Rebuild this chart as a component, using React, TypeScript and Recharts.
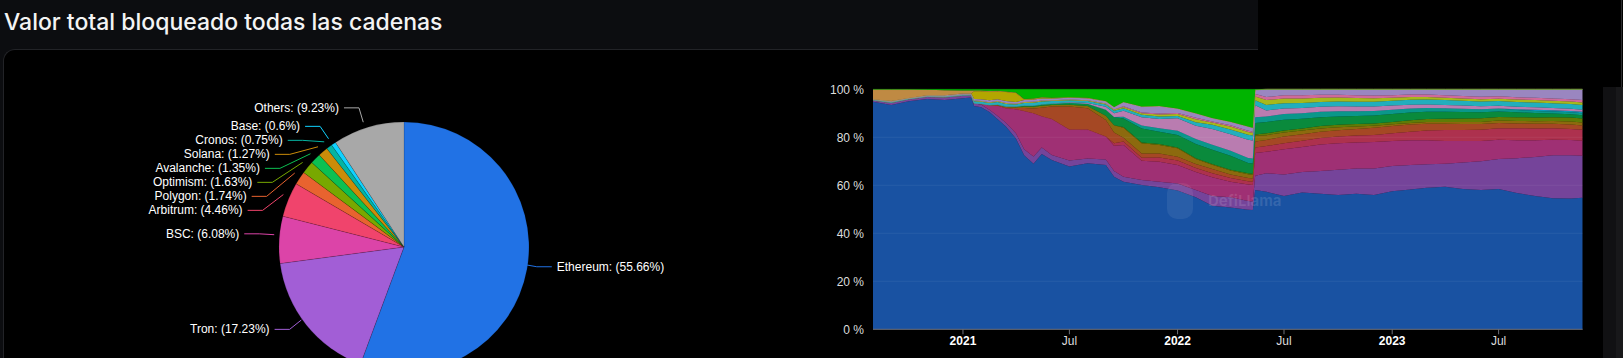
import React from 'react';
import { PieChart, Pie, Cell, AreaChart, Area, XAxis, YAxis, ReferenceLine } from 'recharts';

// ---------- Pie data ----------
const pieNames = ['Ethereum', 'Tron', 'BSC', 'Arbitrum', 'Polygon', 'Optimism', 'Avalanche', 'Solana', 'Cronos', 'Base', 'Others'];
const pieShares = [55.66, 17.23, 6.08, 4.46, 1.74, 1.63, 1.35, 1.27, 0.75, 0.6, 9.23];
const pieColors = ['#2172e5', '#a25ed6', '#dc44a8', '#f0446c', '#e8632f', '#78a800', '#0cc052', '#cb8c09', '#05b4a2', '#10d2ff', '#a8a8a8'];

// ---------- Area (dominance) data ----------
const dates = [
  '2020-08-01', '2020-09-01', '2020-10-01', '2020-11-01', '2020-12-01', '2021-01-01', '2021-01-15', '2021-01-20', '2021-02-01', '2021-02-15',
  '2021-03-01', '2021-03-15', '2021-04-01', '2021-04-15', '2021-05-01', '2021-05-15', '2021-06-01', '2021-07-01', '2021-08-01', '2021-09-01',
  '2021-09-15', '2021-10-01', '2021-11-01', '2021-12-01', '2022-01-01', '2022-02-01', '2022-03-01', '2022-04-01', '2022-05-01', '2022-05-09',
  '2022-05-13', '2022-06-01', '2022-07-01', '2022-08-01', '2022-09-01', '2022-10-01', '2022-11-01', '2022-12-01', '2023-01-01', '2023-02-01',
  '2023-03-01', '2023-04-01', '2023-05-01', '2023-06-01', '2023-07-01', '2023-08-01', '2023-09-01', '2023-10-01', '2023-11-01', '2023-11-21',
];

const ethereum = [94.8, 93.5, 95.0, 96.0, 95.5, 96.3, 96.6, 93.0, 92.5, 90.5, 87.5, 84.5, 79.5, 72.5, 69.0, 73.0, 70.5, 67.8, 69.2, 68.5, 63.6, 61.5, 60.1, 59.2, 57.8, 55.0, 51.5, 50.8, 49.8, 49.7, 58.0, 57.3, 55.5, 57.0, 56.5, 56.0, 56.5, 56.0, 57.5, 58.3, 59.0, 59.4, 58.5, 58.0, 58.5, 56.8, 55.5, 54.6, 54.5, 54.8];
const tron = [0.7, 1.0, 1.0, 1.0, 1.3, 1.2, 1.0, 1.2, 1.2, 1.0, 1.4, 1.6, 2.2, 2.5, 3.0, 2.8, 2.1, 2.5, 2.0, 2.2, 2.4, 2.1, 2.1, 2.3, 3.0, 3.0, 4.0, 4.2, 3.7, 3.5, 6.0, 7.7, 9.0, 8.5, 9.5, 10.5, 10.5, 11.0, 10.5, 10.2, 9.8, 9.6, 11.0, 12.0, 12.5, 14.5, 16.3, 17.9, 18.0, 17.5];
const bsc = [0, 0, 0, 0, 0, 0, 0, 0, 0.3, 2.0, 4.2, 6.0, 10, 16, 18, 13, 15, 13, 12, 9.6, 10.5, 13.2, 8.0, 8.3, 7.7, 7.5, 7.9, 6.5, 6.8, 6.9, 9.5, 9.0, 10.5, 10.5, 11, 11, 10.8, 11, 10.5, 10.3, 10, 9.5, 9.0, 8.5, 8.0, 7.5, 7.0, 6.5, 6.4, 6.3];
const arbitrum = [0, 0, 0, 0, 0, 0, 0, 0, 0, 0, 0, 0, 0, 0, 0, 0, 0, 0, 0, 0, 1.0, 1.5, 1.3, 1.8, 1.8, 1.7, 1.6, 1.5, 1.4, 1.4, 2.3, 2.4, 2.5, 2.6, 2.7, 2.8, 2.9, 3.0, 3.2, 3.5, 4.0, 4.5, 4.5, 4.6, 4.8, 5.0, 4.9, 4.8, 4.6, 4.5];
const polygon = [0, 0, 0, 0, 0, 0, 0, 0, 0, 0, 0.4, 0.5, 0.6, 1.2, 2, 3.5, 5.2, 9.5, 8.9, 6.9, 4.5, 1.5, 1.8, 1.7, 1.6, 1.7, 1.8, 1.5, 1.3, 1.3, 2.5, 2.5, 2.8, 2.7, 2.6, 2.6, 2.8, 3.0, 3.0, 3.0, 2.8, 2.6, 2.5, 2.4, 2.2, 2.0, 1.9, 1.8, 1.8, 1.8];
const solana = [0, 0, 0, 0, 0, 0, 0, 0, 0, 0, 0, 0, 0.2, 0.6, 0.7, 0.8, 0.7, 0.8, 0.9, 1.8, 3.0, 4.2, 4.2, 3.5, 3.5, 2.1, 1.8, 1.7, 1.6, 1.6, 2.3, 2.0, 1.7, 1.5, 1.4, 1.3, 1.0, 0.8, 0.7, 0.7, 0.8, 0.8, 0.9, 0.9, 1.0, 1.0, 1.1, 1.2, 1.3, 1.3];
const optimism = [0, 0, 0, 0, 0, 0, 0, 0, 0, 0, 0, 0, 0, 0, 0, 0, 0, 0, 0, 0, 0, 0.3, 0.3, 0.4, 0.4, 0.3, 0.3, 0.3, 0.4, 0.4, 0.6, 0.8, 0.8, 0.9, 1.0, 1.0, 1.0, 1.0, 1.0, 1.1, 1.2, 1.3, 1.4, 1.5, 1.5, 1.6, 1.6, 1.6, 1.6, 1.6];
const avalanche = [0, 0, 0, 0, 0, 0, 0, 0, 0, 0, 0.2, 0.3, 0.4, 0.5, 0.6, 0.7, 0.6, 0.8, 1.0, 2.5, 3.5, 3.5, 5.9, 5.1, 5.2, 5.9, 5.9, 5.8, 4.3, 4.3, 4.8, 4.7, 4.5, 4.0, 3.7, 3.5, 3.4, 3.3, 3.3, 3.2, 3.0, 2.9, 2.7, 2.5, 2.3, 2.0, 1.8, 1.5, 1.4, 1.4];
const cronos = [0, 0, 0, 0, 0, 0, 0, 0, 0, 0, 0, 0, 0, 0, 0, 0, 0, 0, 0, 0, 0, 0.8, 1.2, 1.5, 1.7, 2.1, 2.1, 2.1, 2.1, 2.1, 2.4, 2.3, 2.4, 2.3, 2.2, 2.2, 2.0, 1.9, 1.8, 1.7, 1.6, 1.5, 1.4, 1.3, 1.2, 1.0, 0.9, 0.8, 0.8, 0.8];
const base = [0, 0, 0, 0, 0, 0, 0, 0, 0, 0, 0, 0, 0, 0, 0, 0, 0, 0, 0, 0, 0, 0, 0, 0, 0, 0, 0, 0, 0, 0, 0, 0, 0, 0, 0, 0, 0, 0, 0, 0, 0, 0, 0, 0, 0, 0.3, 0.5, 0.6, 0.6, 0.6];
const fantom = [0, 0, 0, 0, 0, 0, 0, 0, 0, 0, 0, 0, 0, 0, 0, 0, 0, 0.2, 0.3, 1.2, 1.5, 2.5, 3.5, 3.8, 5.2, 5.5, 6.6, 6.9, 7.6, 7.5, 5.0, 2.5, 2.3, 2.2, 2.1, 2.0, 1.9, 1.8, 1.7, 1.6, 1.5, 1.4, 1.3, 1.2, 1.1, 1.0, 1.0, 0.9, 0.9, 0.9];
const kava = [0.2, 0.3, 0.2, 0.2, 0.3, 0.3, 0.3, 0.8, 0.8, 0.8, 1.0, 1.0, 0.8, 1.0, 1.1, 1.1, 1.0, 0.8, 0.8, 1.0, 1.1, 1.0, 1.0, 1.1, 1.0, 1.5, 1.7, 2.0, 2.1, 2.1, 2.0, 2.3, 2.2, 2.1, 2.0, 2.0, 2.0, 2.0, 2.0, 2.0, 2.0, 2.0, 2.0, 2.0, 2.0, 2.0, 2.0, 2.0, 2.0, 2.0];
const osmosis = [0, 0, 0, 0, 0, 0, 0, 0.3, 0.3, 0.3, 0.4, 0.4, 0.3, 0.4, 0.4, 0.4, 0.3, 0.3, 0.3, 0.4, 0.5, 0.5, 0.6, 0.8, 0.8, 1.2, 1.0, 1.2, 1.1, 1.1, 1.6, 2.0, 2.0, 1.9, 1.8, 1.7, 1.6, 1.5, 1.3, 1.2, 1.1, 1.0, 1.0, 1.0, 1.0, 1.0, 1.0, 1.0, 1.0, 1.0];
const mixin = [0, 0, 0, 0, 0, 0, 0, 0, 0, 0, 0, 0, 0, 0, 0, 0, 0, 0, 0, 0, 0, 0.3, 0.3, 0.4, 0.4, 0.6, 0.4, 0.5, 0.5, 0.5, 1.0, 1.3, 1.3, 1.3, 1.2, 1.1, 1.1, 1.1, 1.0, 1.0, 1.0, 1.0, 1.0, 1.0, 1.0, 1.0, 1.0, 1.0, 1.0, 1.0];
const others = [0.2, 0.3, 0.2, 0.3, 0.4, 0.4, 0.3, 0.7, 0.8, 0.8, 0.8, 0.8, 0.7, 0.8, 0.9, 0.9, 0.8, 0.8, 0.9, 0.9, 1.0, 1.8, 2.5, 3.1, 1.9, 1.9, 1.4, 1.5, 1.8, 1.6, 1.8, 3.2, 2.5, 2.5, 2.3, 2.3, 2.5, 2.6, 2.5, 2.2, 2.2, 2.5, 2.8, 3.1, 2.9, 3.3, 3.5, 3.8, 4.1, 4.5];
const heco = [0, 0, 0, 0, 0, 0, 0, 3.2, 3.3, 3.6, 3.2, 3.8, 3.8, 0.3, 0.3, 0.3, 0.2, 0.1, 0.1, 0.05, 0, 0, 0, 0, 0, 0, 0, 0, 0, 0, 0, 0, 0, 0, 0, 0, 0, 0, 0, 0, 0, 0, 0, 0, 0, 0, 0, 0, 0, 0];
const bitcoin = [4.0, 4.8, 3.5, 2.3, 2.1, 1.3, 1.3, 0.3, 0.3, 0.3, 0.3, 0.2, 0.2, 0.2, 0.2, 0.2, 0.1, 0.1, 0.1, 0.05, 0, 0, 0, 0, 0, 0, 0, 0, 0, 0, 0, 0, 0, 0, 0, 0, 0, 0, 0, 0, 0, 0, 0, 0, 0, 0, 0, 0, 0, 0];
const terra = [0.1, 0.1, 0.1, 0.2, 0.4, 0.5, 0.5, 0.5, 0.5, 0.7, 0.6, 0.9, 1.3, 4.0, 3.8, 3.3, 3.5, 3.3, 3.5, 4.9, 7.4, 5.3, 7.2, 7.0, 8.0, 10.0, 12.0, 13.5, 15.5, 16.0, 0.2, 0, 0, 0, 0, 0, 0, 0, 0, 0, 0, 0, 0, 0, 0, 0, 0, 0, 0, 0];

const areaSeries = [
  { name: 'Ethereum', values: ethereum, color: '#1952a2' },
  { name: 'Tron', values: tron, color: '#75449a' },
  { name: 'BSC', values: bsc, color: '#9f3074' },
  { name: 'Arbitrum', values: arbitrum, color: '#ad314e' },
  { name: 'Polygon', values: polygon, color: '#a54824' },
  { name: 'Solana', values: solana, color: '#8c6a0e' },
  { name: 'Optimism', values: optimism, color: '#5f7c06' },
  { name: 'Avalanche', values: avalanche, color: '#0a8a3c' },
  { name: 'Cronos', values: cronos, color: '#0a978a' },
  { name: 'Base', values: base, color: '#0c97b8' },
  { name: 'Fantom', values: fantom, color: '#b97cb0' },
  { name: 'Kava', values: kava, color: '#22aebd' },
  { name: 'Osmosis', values: osmosis, color: '#a6b81c' },
  { name: 'Mixin', values: mixin, color: '#cf6a9a' },
  { name: 'Others', values: others, color: '#9a86c0' },
  { name: 'Heco', values: heco, color: '#b3a600' },
  { name: 'Bitcoin', values: bitcoin, color: '#bf8a43' },
  { name: 'Terra', values: terra, color: '#00b400' },
];

const xTickDates = ['2021-01-01', '2021-07-01', '2022-01-01', '2022-07-01', '2023-01-01', '2023-07-01'];
const xTickLabels = ['2021', 'Jul', '2022', 'Jul', '2023', 'Jul'];
const yTicks = [0, 0.2, 0.4, 0.6, 0.8, 1];
const xDomain = ['2020-08-01', '2023-11-21'];

const rows = dates.map((d, i) => {
  const row: Record<string, number> = { t: Date.parse(d) };
  areaSeries.forEach((s) => { row[s.name] = s.values[i]; });
  return row;
});
const xTicks = xTickDates.map((d) => Date.parse(d));
const xLabelOf = (v: number) => {
  const idx = xTicks.indexOf(v);
  return idx >= 0 ? xTickLabels[idx] : '';
};

// ---------- Pie label layout ----------
const PIE_CX = 399;
const PIE_CY = 242;
const PIE_R = 125;
const LEN1 = 15;
const LEN2 = 15;
const GAP = 14;

type Lbl = { ex: number; ey: number; x: number; y: number; ny: number; right: boolean };

function layoutLabels(): Lbl[] {
  const total = pieShares.reduce((a, b) => a + b, 0);
  let cum = 0;
  const R = PIE_R + LEN1;
  const items: Lbl[] = pieShares.map((v) => {
    const mid = ((cum + v / 2) / total) * Math.PI * 2;
    cum += v;
    const s = Math.sin(mid);
    const c = Math.cos(mid);
    return {
      ex: PIE_CX + PIE_R * s,
      ey: PIE_CY - PIE_R * c,
      x: PIE_CX + R * s,
      y: PIE_CY - R * c,
      ny: PIE_CY - R * c,
      right: s >= 0,
    };
  });
  [true, false].forEach((side) => {
    const list = items.filter((it) => it.right === side).sort((a, b) => a.ny - b.ny);
    for (let k = 1; k < list.length; k++) {
      if (list[k].y < list[k - 1].y + GAP) list[k].y = list[k - 1].y + GAP;
    }
    list.forEach((it) => {
      if (Math.abs(it.y - it.ny) > 0.5) {
        const dy = it.y - PIE_CY;
        const dx = Math.sqrt(Math.max(0, R * R - dy * dy));
        it.x = PIE_CX + (side ? dx : -dx);
      }
    });
  });
  return items;
}
const labels = layoutLabels();

const renderPieLabel = (props: any) => {
  const i = props.index as number;
  const L = labels[i];
  const dir = L.right ? 1 : -1;
  const x2 = L.x + dir * LEN2;
  return (
    <g key={`lbl-${i}`}>
      <polyline
        points={`${L.ex},${L.ey} ${L.x},${L.y} ${x2},${L.y}`}
        fill="none"
        stroke={pieColors[i]}
        strokeWidth={1}
      />
      <text
        x={x2 + dir * 5}
        y={L.y}
        textAnchor={L.right ? 'start' : 'end'}
        dominantBaseline="central"
        fill="#ffffff"
        fontSize={12}
        fontFamily="'Liberation Sans', Arial, sans-serif"
      >
        {`${pieNames[i]}: (${pieShares[i]}%)`}
      </text>
    </g>
  );
};

const XTick = (props: any) => {
  const { x, y, payload } = props;
  const label = xLabelOf(payload.value);
  const isYear = /^\d{4}$/.test(label);
  return (
    <text
      x={x}
      y={y}
      dy={9}
      textAnchor="middle"
      fill={isYear ? '#ffffff' : '#dddddd'}
      fontSize={12}
      fontWeight={isYear ? 700 : 400}
      fontFamily="'Liberation Sans', Arial, sans-serif"
    >
      {label}
    </text>
  );
};

const pieData = pieNames.map((n, i) => ({ name: n, value: pieShares[i] }));

export default function App() {
  return (
    <div
      style={{
        position: 'absolute',
        left: 0,
        top: 0,
        width: 1623,
        height: 358,
        overflow: 'hidden',
        background: '#000',
        fontFamily: "'Liberation Sans', Arial, sans-serif",
      }}
    >
      <div style={{ position: 'absolute', left: 0, top: 0, width: 1258, height: 358, background: '#0c0d10' }} />
      <div
        style={{
          position: 'absolute',
          left: 4,
          top: 10,
          color: '#f4f4f4',
          fontFamily: 'Inter, sans-serif',
          fontWeight: 500,
          fontSize: 23,
          lineHeight: '24px',
          whiteSpace: 'nowrap',
        }}
      >
        Valor total bloqueado todas las cadenas
      </div>
      <div
        style={{
          position: 'absolute',
          left: 3,
          top: 49,
          width: 1260,
          height: 330,
          background: '#000',
          borderTop: '1px solid #222327',
          borderLeft: '1px solid #222327',
          borderTopLeftRadius: 12,
        }}
      />
      <div style={{ position: 'absolute', left: 1258, top: 0, width: 365, height: 358, background: '#000' }} />
      <div style={{ position: 'absolute', left: 1603, top: 87, width: 13, height: 280, background: '#111113' }} />
      <div style={{ position: 'absolute', left: 1616, top: 87, width: 7, height: 280, background: '#18181a' }} />
      <div style={{ position: 'absolute', left: 1621, top: 0, width: 1, height: 87, background: '#2a2a2c' }} />

      <div style={{ position: 'absolute', left: 0, top: 0 }}>
        <PieChart width={800} height={400}>
          <Pie
            data={pieData}
            dataKey="value"
            nameKey="name"
            cx={PIE_CX}
            cy={PIE_CY}
            outerRadius={PIE_R}
            innerRadius={0}
            startAngle={90}
            endAngle={-270}
            label={renderPieLabel}
            labelLine={false}
            isAnimationActive={false}
            stroke="#000"
            strokeOpacity={0.25}
            strokeWidth={0.5}
          >
            {pieData.map((d, i) => (
              <Cell key={d.name} fill={pieColors[i]} />
            ))}
          </Pie>
        </PieChart>
      </div>

      <div style={{ position: 'absolute', left: 800, top: 60 }}>
        <AreaChart
          width={800}
          height={298}
          data={rows}
          stackOffset="expand"
          margin={{ top: 29.3, right: 17.3, bottom: 8.7, left: 0 }}
        >
          <XAxis
            dataKey="t"
            type="number"
            domain={xDomain.map((d) => Date.parse(d))}
            ticks={xTicks}
            interval={0}
            tickFormatter={(v: number) => xLabelOf(v)}
            tick={<XTick />}
            tickSize={5}
            tickMargin={2}
            height={20}
            axisLine={{ stroke: '#6e7079' }}
            tickLine={{ stroke: '#6e7079' }}
            allowDataOverflow
          />
          <YAxis
            domain={[0, 1]}
            ticks={yTicks}
            interval={0}
            tickFormatter={(v: number) => `${Math.round(v * 100)} %`}
            width={73}
            axisLine={false}
            tickLine={false}
            tickSize={6}
            tickMargin={3}
            tick={{ fill: '#dddddd', fontSize: 12, fontFamily: "'Liberation Sans', Arial, sans-serif" }}
          />
          {areaSeries.map((s) => (
            <Area
              key={s.name}
              type="linear"
              dataKey={s.name}
              stackId="1"
              fill={s.color}
              fillOpacity={1}
              stroke={s.color}
              strokeWidth={0.4}
              dot={false}
              activeDot={false}
              isAnimationActive={false}
            />
          ))}
          {yTicks.slice(1, 5).map((v) => (
            <ReferenceLine key={v} y={v} stroke="#ffffff" strokeOpacity={0.06} />
          ))}
        </AreaChart>
      </div>

      <svg
        width={1623}
        height={358}
        style={{ position: 'absolute', left: 0, top: 0, pointerEvents: 'none' }}
      >
        <rect x={1167} y={183} width={26} height={36} rx={10} fill="#ffffff" fillOpacity={0.07} />
        <text
          x={1208}
          y={206}
          fill="#ffffff"
          fillOpacity={0.12}
          fontSize={15}
          fontWeight={700}
          fontFamily="Inter, sans-serif"
        >
          DefiLlama
        </text>
      </svg>
    </div>
  );
}
